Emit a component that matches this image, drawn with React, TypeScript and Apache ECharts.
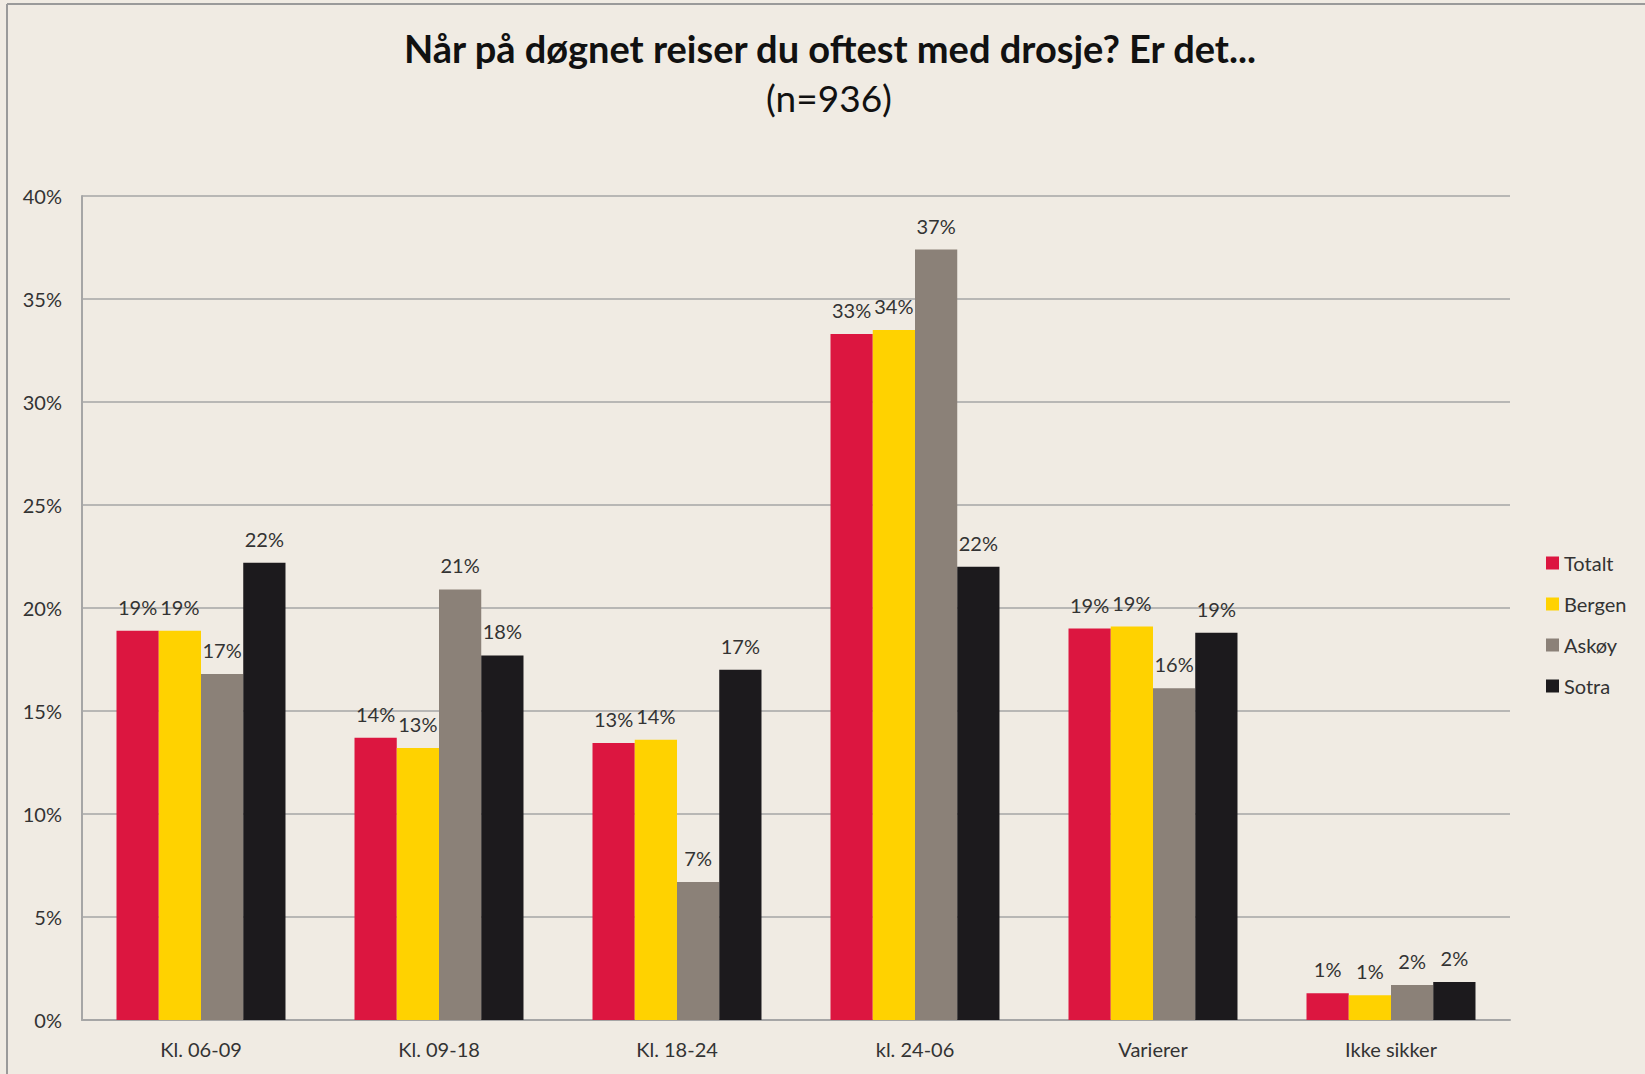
import React, { useEffect, useRef } from "react";
import * as echarts from "echarts";

const categories = ["Kl. 06-09", "Kl. 09-18", "Kl. 18-24", "kl. 24-06", "Varierer", "Ikke sikker"];
const totalt = [18.9, 13.7, 13.45, 33.3, 19.0, 1.3];
const bergen = [18.9, 13.2, 13.6, 33.5, 19.1, 1.2];
const askoy = [16.8, 20.9, 6.7, 37.4, 16.1, 1.7];
const sotra = [22.2, 17.7, 17.0, 22.0, 18.8, 1.85];
const seriesNames = ["Totalt", "Bergen", "Askøy", "Sotra"];
const seriesColors = ["#DC1640", "#FFD200", "#8B8178", "#1C1A1D"];
const yTicks = [0, 5, 10, 15, 20, 25, 30, 35, 40];
const titleText = "Når på døgnet reiser du oftest med drosje? Er det...";
const subtitleText = "(n=936)";

const FONT = "Lato, 'Open Sans', sans-serif";

export default function App() {
  const ref = useRef<HTMLDivElement>(null);
  useEffect(() => {
    document.body.style.margin = "0";
    if (!ref.current) return;
    const chart = echarts.init(ref.current, null, { renderer: "svg" });
    const allData = [totalt, bergen, askoy, sotra];
    chart.setOption({
      animation: false,
      backgroundColor: "#F0EBE3",
      textStyle: { fontFamily: FONT },
      graphic: [
        { type: "line", shape: { x1: 7, y1: 4, x2: 1645, y2: 4 }, style: { stroke: "#9A9A9A", lineWidth: 2 } },
        { type: "line", shape: { x1: 7, y1: 4, x2: 7, y2: 1074 }, style: { stroke: "#9A9A9A", lineWidth: 2 } },
        {
          type: "text",
          x: 830,
          y: 48,
          style: {
            text: titleText,
            fill: "#111111",
            font: `bold 38px ${FONT}`,
            textAlign: "center",
            textVerticalAlign: "middle",
          },
        },
        {
          type: "text",
          x: 829,
          y: 97,
          style: {
            text: subtitleText,
            fill: "#111111",
            font: `37px ${FONT}`,
            textAlign: "center",
            textVerticalAlign: "middle",
          },
        },
      ],
      legend: {
        orient: "vertical",
        left: 1541,
        top: 548,
        icon: "rect",
        itemWidth: 13,
        itemHeight: 13,
        itemGap: 21,
        textStyle: { fontSize: 20, lineHeight: 20, color: "#333333", fontFamily: FONT },
        data: seriesNames,
      },
      grid: { left: 82, top: 196, right: 135, bottom: 54 },
      xAxis: {
        type: "category",
        data: categories,
        axisLine: { show: true, lineStyle: { color: "#A6A6A6", width: 2 } },
        axisTick: { show: false },
        axisLabel: { fontSize: 20, color: "#333333", margin: 19, fontFamily: FONT },
      },
      yAxis: {
        type: "value",
        min: yTicks[0],
        max: yTicks[yTicks.length - 1],
        interval: 5,
        axisLine: { show: true, lineStyle: { color: "#A6A6A6", width: 2 } },
        axisTick: { show: false },
        splitLine: { lineStyle: { color: "#A6A6A6", width: 1.5 } },
        axisLabel: { fontSize: 20, color: "#333333", margin: 20, formatter: "{value}%", fontFamily: FONT },
      },
      series: seriesNames.map((name, i) => ({
        name,
        type: "bar",
        data: allData[i],
        barGap: "0%",
        barCategoryGap: "29%",
        itemStyle: { color: seriesColors[i] },
        label: {
          show: true,
          position: "top",
          distance: 14,
          fontSize: 20,
          color: "#333333",
          fontFamily: FONT,
          formatter: (p: any) => `${Math.round(p.value)}%`,
        },
      })),
    });
    return () => chart.dispose();
  }, []);
  return <div ref={ref} style={{ position: "absolute", left: 0, top: 0, width: 1645, height: 1074 }} />;
}
